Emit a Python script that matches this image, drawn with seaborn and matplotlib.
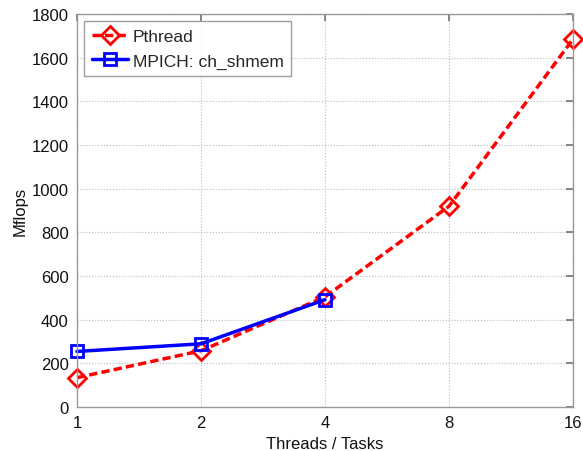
import matplotlib
matplotlib.use("Agg")
import matplotlib.pyplot as plt
import seaborn as sns
import pandas as pd

threads = [1, 2, 4, 8, 16]
pthread = [135, 258, 505, 920, 1685]
mpich_x = [1, 2, 4]
mpich = [255, 290, 492]
xticklabels = ["1", "2", "4", "8", "16"]
yticks = [0, 200, 400, 600, 800, 1000, 1200, 1400, 1600, 1800]

sns.set_theme(style="white")
plt.rcParams['font.family'] = ['Liberation Sans', 'DejaVu Sans']

fig = plt.figure(figsize=(5.83, 4.52), dpi=100)
ax = fig.add_axes([0.132, 0.097, 0.851, 0.870])

df1 = pd.DataFrame({"x": threads, "y": pthread})
df2 = pd.DataFrame({"x": mpich_x, "y": mpich})

sns.lineplot(data=df1, x="x", y="y", ax=ax, color="red", linewidth=2.5,
             marker="D", markersize=9.5, markerfacecolor="none", markeredgecolor="red",
             markeredgewidth=2, label="Pthread", clip_on=False)
sns.lineplot(data=df2, x="x", y="y", ax=ax, color="blue", linestyle="-", linewidth=2.5,
             marker="s", markersize=9, markerfacecolor="none", markeredgecolor="blue",
             markeredgewidth=2, label="MPICH: ch_shmem", clip_on=False)
ax.lines[0].set_dashes((2.4, 1.2))

ax.set_xscale("log", base=2)
ax.set_xlim(1, 16)
ax.set_ylim(0, 1800)
ax.set_xticks(threads)
ax.set_xticklabels(xticklabels)
ax.minorticks_off()
ax.set_yticks(yticks)
ax.tick_params(direction="in", length=5, color="#777777", labelsize=12, pad=6,
               top=True, right=True, labelcolor="#111111")
ax.grid(True, linestyle=":", color="#bbbbbb", linewidth=0.8)
for s in ax.spines.values():
    s.set_color("#999999")
    s.set_linewidth(1)
ax.set_xlabel("Threads / Tasks", fontsize=12, color="#111111")
ax.set_ylabel("Mflops", fontsize=12, color="#111111", labelpad=3)

leg = ax.legend(loc="upper left", fontsize=12.5, frameon=True, fancybox=False,
                edgecolor="#888888", handlelength=2.1, handletextpad=0.25,
                borderpad=0.45, borderaxespad=0.4, labelspacing=0.55)
leg.get_frame().set_linewidth(1)

fig.savefig("out.png", dpi=100)
